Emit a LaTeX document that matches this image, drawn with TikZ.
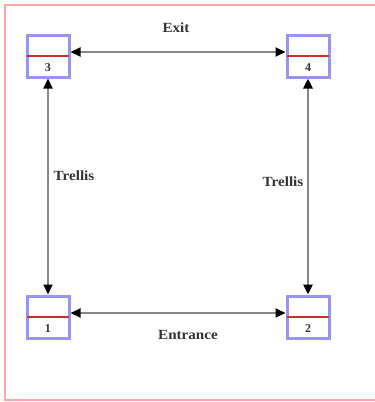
\documentclass[tikz,border=0pt]{standalone}
\usepackage{fontspec}
\setmainfont{Liberation Serif}
\usetikzlibrary{arrows.meta}
\definecolor{boxblue}{RGB}{150,150,240}
\definecolor{framepink}{RGB}{255,165,165}
\definecolor{redline}{RGB}{205,45,45}
\definecolor{linegray}{RGB}{135,135,135}
\tikzset{
  statebox/.style={draw=boxblue, line width=3pt, fill=white, minimum width=42pt, minimum height=42pt, inner sep=0pt},
  conn/.style={draw=linegray, line width=2.1pt, {Triangle[length=10pt,width=9pt,fill=black,color=black]}-{Triangle[length=10pt,width=9pt,fill=black,color=black]}},
  lbl/.style={font=\fontsize{14}{16}\selectfont\bfseries, text=black!80, inner sep=1pt, xscale=1.08},
  numlbl/.style={font=\fontsize{12}{14}\selectfont\bfseries, text=black!80, inner sep=0pt}
}
\begin{document}
\begin{tikzpicture}[x=1pt,y=-1pt]
\useasboundingbox (0,0) rectangle (375,402);
% frame (open on right)
\draw[framepink, line width=2.6pt] (376,5) -- (5,5) -- (5,400) -- (376,400);
% boxes
\node[statebox] (n3) at (48,56) {};
\node[statebox] (n4) at (308,56) {};
\node[statebox] (n1) at (48,317) {};
\node[statebox] (n2) at (308,317) {};
\foreach \n in {n1,n2,n3,n4}{
  \draw[redline, line width=2.4pt] ([xshift=1.5pt]\n.west) -- ([xshift=-1.5pt]\n.east);
}
\node[numlbl] (t3) at (48,67.5) {3};
\node[numlbl] (t4) at (308,67.5) {4};
\node[numlbl] (t1) at (48,328.5) {1};
\node[numlbl] (t2) at (308,328.5) {2};
% connectors
\draw[conn] ([yshift=4pt]n3.east) -- ([yshift=4pt]n4.west);
\draw[conn] ([yshift=4pt]n1.east) -- ([yshift=4pt]n2.west);
\draw[conn, line width=1.8pt] (n3.south) -- (n1.north);
\draw[conn, line width=2.9pt] (n4.south) -- (n2.north);
% labels
\node[lbl] (lexit) at (176,28) {Exit};
\node[lbl] (lent) at (188,335) {Entrance};
\node[lbl] (ltl) at (74,176) {Trellis};
\node[lbl] (ltr) at (283,182) {Trellis};
\end{tikzpicture}
\end{document}
